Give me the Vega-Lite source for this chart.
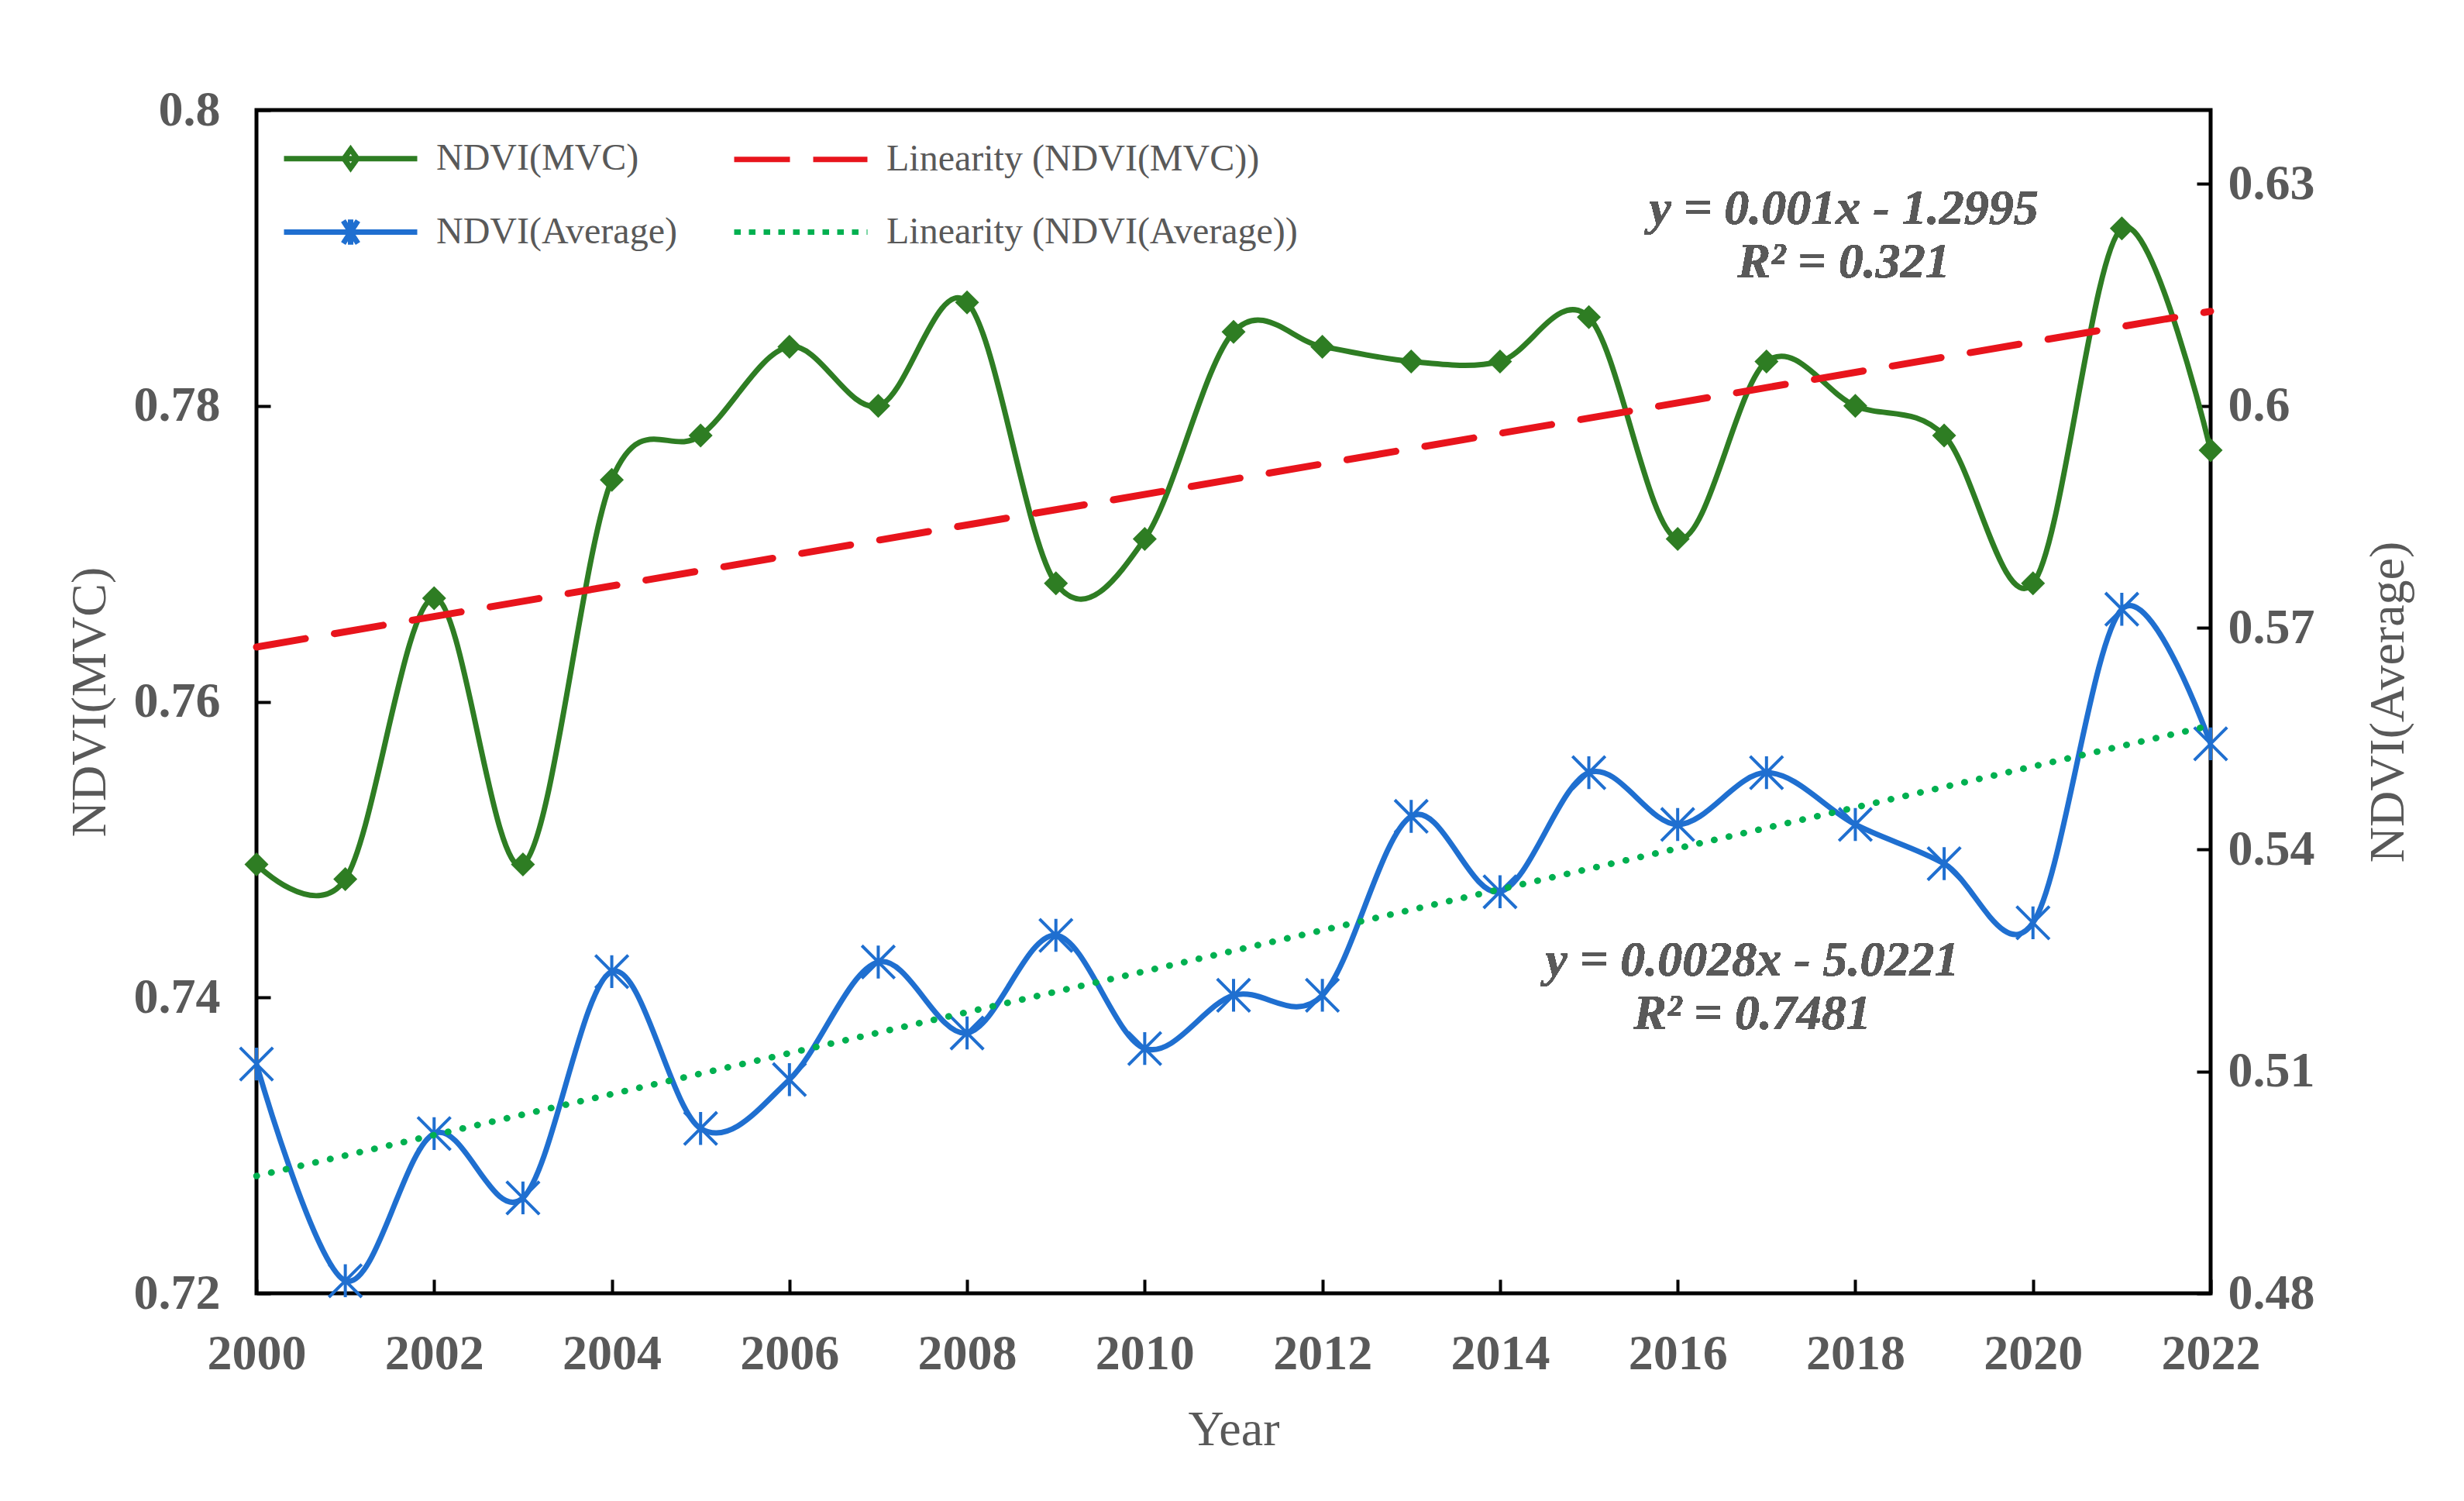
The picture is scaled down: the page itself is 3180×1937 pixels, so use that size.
{
  "$schema": "https://vega.github.io/schema/vega-lite/v6.json",
  "width": 2522,
  "height": 1527,
  "autosize": {"type": "none"},
  "padding": {"left": 331, "top": 142, "right": 327, "bottom": 268},
  "background": "white",
  "data": {
    "values": [
      {"year": 2000, "mvc": 0.749, "avg": 0.5110},
      {"year": 2001, "mvc": 0.748, "avg": 0.4817},
      {"year": 2002, "mvc": 0.767, "avg": 0.5016},
      {"year": 2003, "mvc": 0.749, "avg": 0.4929},
      {"year": 2004, "mvc": 0.775, "avg": 0.5235},
      {"year": 2005, "mvc": 0.778, "avg": 0.5023},
      {"year": 2006, "mvc": 0.784, "avg": 0.5089},
      {"year": 2007, "mvc": 0.780, "avg": 0.5248},
      {"year": 2008, "mvc": 0.787, "avg": 0.5152},
      {"year": 2009, "mvc": 0.768, "avg": 0.5284},
      {"year": 2010, "mvc": 0.771, "avg": 0.5131},
      {"year": 2011, "mvc": 0.785, "avg": 0.5203},
      {"year": 2012, "mvc": 0.784, "avg": 0.5203},
      {"year": 2013, "mvc": 0.783, "avg": 0.5445},
      {"year": 2014, "mvc": 0.783, "avg": 0.5343},
      {"year": 2015, "mvc": 0.786, "avg": 0.5504},
      {"year": 2016, "mvc": 0.771, "avg": 0.5434},
      {"year": 2017, "mvc": 0.783, "avg": 0.5504},
      {"year": 2018, "mvc": 0.780, "avg": 0.5434},
      {"year": 2019, "mvc": 0.778, "avg": 0.5381},
      {"year": 2020, "mvc": 0.768, "avg": 0.5301},
      {"year": 2021, "mvc": 0.792, "avg": 0.5725},
      {"year": 2022, "mvc": 0.777, "avg": 0.5543}
    ]
  },
  "config": {
    "font": "Liberation Serif",
    "view": {"stroke": "black", "strokeWidth": 5},
    "axis": {
      "grid": false,
      "domain": false,
      "labelFlush": false,
      "tickColor": "black",
      "tickWidth": 4,
      "tickSize": -18,
      "labelFont": "Liberation Serif",
      "labelFontSize": 64,
      "labelFontWeight": "bold",
      "labelColor": "#595959",
      "titleFont": "Liberation Serif",
      "titleFontSize": 64,
      "titleFontWeight": "normal",
      "titleColor": "#595959"
    }
  },
  "encoding": {
    "x": {
      "field": "year",
      "type": "quantitative",
      "scale": {"domain": [2000, 2022], "nice": false, "zero": false},
      "axis": {
        "values": [2000, 2002, 2004, 2006, 2008, 2010, 2012, 2014, 2016, 2018, 2020, 2022],
        "format": "d",
        "title": "Year",
        "labelPadding": 64,
        "titlePadding": 34
      }
    }
  },
  "layer": [
    {
      "encoding": {
        "y": {
          "field": "mvc",
          "type": "quantitative",
          "scale": {"domain": [0.72, 0.8], "nice": false, "zero": false},
          "axis": {
            "orient": "left",
            "values": [0.72, 0.74, 0.76, 0.78, 0.8],
            "format": ".2~f",
            "title": "NDVI(MVC)",
            "titleAngle": 270,
            "labelPadding": 65,
            "titlePadding": 24
          }
        }
      },
      "layer": [
        {
          "mark": {"type": "line", "interpolate": "cardinal", "color": "#2e7d23", "strokeWidth": 7}
        },
        {
          "mark": {"type": "point", "shape": "diamond", "filled": true, "size": 961, "color": "#2e7d23", "opacity": 1}
        },
        {
          "transform": [{"regression": "mvc", "on": "year"}],
          "mark": {"type": "line", "color": "#e8141c", "strokeWidth": 9, "strokeDash": [64, 38], "strokeCap": "round"}
        },
        {
          "mark": {
            "type": "text",
            "font": "Liberation Serif",
            "fontSize": 64,
            "fontStyle": "italic",
            "fontWeight": "bold",
            "color": "#595959",
            "align": "center",
            "baseline": "middle",
            "lineBreak": "\n",
            "lineHeight": 69
          },
          "encoding": {
            "x": {"datum": 2017.87, "type": "quantitative"},
            "y": {"datum": 0.7933, "type": "quantitative"},
            "text": {"value": "y = 0.001x - 1.2995\nR² = 0.321"}
          }
        },
        {
          "mark": {
            "type": "text",
            "font": "Liberation Serif",
            "fontSize": 64,
            "fontStyle": "italic",
            "fontWeight": "bold",
            "color": "#595959",
            "align": "center",
            "baseline": "middle",
            "lineBreak": "\n",
            "lineHeight": 69
          },
          "encoding": {
            "x": {"datum": 2016.84, "type": "quantitative"},
            "y": {"datum": 0.7425, "type": "quantitative"},
            "text": {"value": "y = 0.0028x - 5.0221\nR² = 0.7481"}
          }
        },
        {
          "transform": [{"filter": "false"}],
          "mark": {"type": "point", "filled": false, "strokeWidth": 7, "opacity": 1},
          "encoding": {
            "color": {
              "field": "series",
              "type": "nominal",
              "scale": {
                "domain": ["NDVI(MVC)", "NDVI(Average)", "Linearity (NDVI(MVC))", "Linearity (NDVI(Average))"],
                "range": ["#2e7d23", "#1f6fd0", "#e8141c", "#00b050"]
              },
              "legend": {
                "title": null,
                "orient": "none",
                "legendX": 75,
                "legendY": 16,
                "columns": 2,
                "columnPadding": 59,
                "rowPadding": 22,
                "padding": 0,
                "symbolSize": 7396,
                "symbolStrokeWidth": 7,
                "labelFont": "Liberation Serif",
                "labelFontSize": 48,
                "labelColor": "#595959",
                "labelOffset": 64,
                "labelLimit": 0,
                "encode": {
                  "symbols": {
                    "update": {
                      "fill": {"signal": "datum.value === 'NDVI(MVC)' ? '#2e7d23' : 'transparent'"}
                    }
                  }
                }
              }
            },
            "shape": {
              "field": "series",
              "type": "nominal",
              "scale": {
                "domain": ["NDVI(MVC)", "NDVI(Average)", "Linearity (NDVI(MVC))", "Linearity (NDVI(Average))"],
                "range": [
                  "M-2,0L2,0M0,-0.28L0.2,0L0,0.28L-0.2,0Z",
                  "M-2,0L2,0M-0.22,-0.34L0.22,0.34M-0.22,0.34L0.22,-0.34M0,-0.38L0,0.38",
                  "M-2,0L2,0",
                  "M-2,0L2,0"
                ]
              }
            },
            "strokeDash": {
              "field": "series",
              "type": "nominal",
              "scale": {
                "domain": ["NDVI(MVC)", "NDVI(Average)", "Linearity (NDVI(MVC))", "Linearity (NDVI(Average))"],
                "range": [[1, 0], [1, 0], [72, 30], [8.5, 10.5]]
              }
            }
          }
        }
      ]
    },
    {
      "encoding": {
        "y": {
          "field": "avg",
          "type": "quantitative",
          "scale": {"domain": [0.48, 0.64], "nice": false, "zero": false},
          "axis": {
            "orient": "right",
            "values": [0.48, 0.51, 0.54, 0.57, 0.6, 0.63],
            "format": ".2~f",
            "title": "NDVI(Average)",
            "titleAngle": 270,
            "labelPadding": 40,
            "titlePadding": 127
          }
        }
      },
      "layer": [
        {
          "mark": {"type": "line", "interpolate": "cardinal", "color": "#1f6fd0", "strokeWidth": 7}
        },
        {
          "mark": {
            "type": "point",
            "shape": "M-1,-1L1,1M-1,1L1,-1M0,-1L0,1",
            "filled": false,
            "size": 1800,
            "color": "#1f6fd0",
            "strokeWidth": 4,
            "opacity": 1
          }
        },
        {
          "transform": [{"regression": "avg", "on": "year"}],
          "mark": {"type": "line", "color": "#00b050", "strokeWidth": 8.5, "strokeDash": [0.5, 19], "strokeCap": "round"}
        }
      ]
    }
  ],
  "resolve": {"scale": {"y": "independent"}}
}
